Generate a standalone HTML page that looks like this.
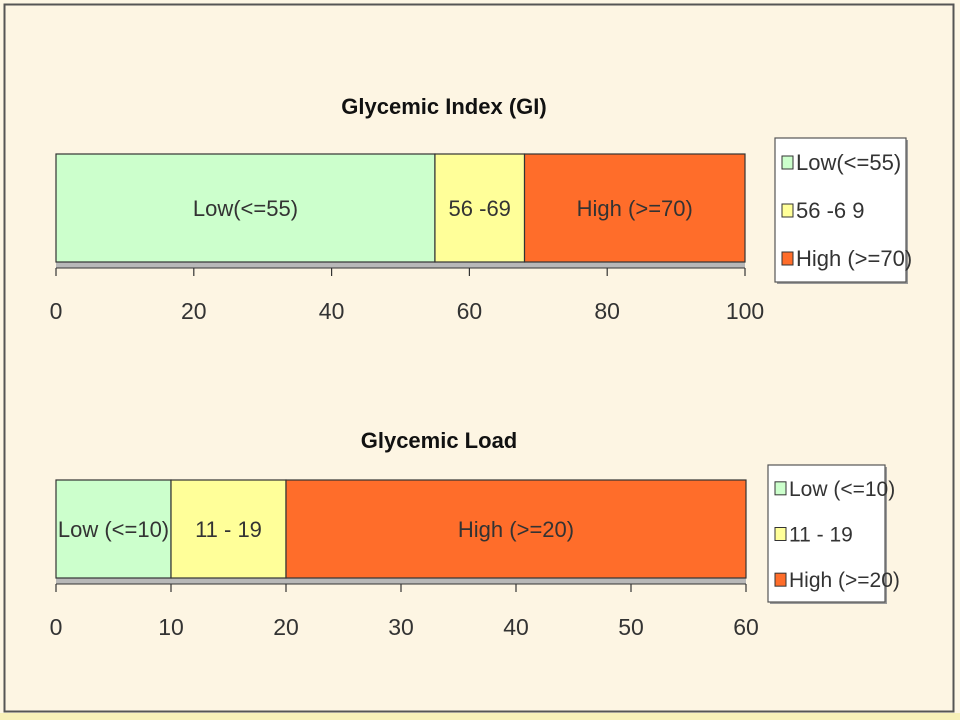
<!DOCTYPE html>
<html><head><meta charset="utf-8"><style>
html,body{margin:0;padding:0;background:#fdf5e3;}
svg{display:block;font-family:"Liberation Sans Narrow","Liberation Sans",sans-serif;}
</style></head><body>
<svg id="c" width="960" height="720" viewBox="0 0 960 720">
<rect x="0" y="0" width="960" height="720" fill="#fdf6e4"/>
<rect x="4.5" y="4.5" width="949" height="707" fill="#fdf5e3" stroke="#555" stroke-width="2"/>
<rect x="0" y="713" width="960" height="7" fill="#f7f0b8"/>
</svg>
<script>
const giLabels=["Low(<=55)","56 -69","High (>=70)"];
const giLegend=["Low(<=55)","56 -6 9","High  (>=70)"];
const giValues=[55,13,32];
const giTicks=[0,20,40,60,80,100];
const glLabels=["Low (<=10)","11 - 19","High (>=20)"];
const glLegend=["Low (<=10)","11 - 19","High (>=20)"];
const glValues=[10,10,40];
const glTicks=[0,10,20,30,40,50,60];
const colors=["#ccffcc","#ffff99","#ff6d2a"];
const svg=document.getElementById('c');
const NS='http://www.w3.org/2000/svg';
function mk(tag,attrs,parent){const e=document.createElementNS(NS,tag);for(const k in attrs)e.setAttribute(k,attrs[k]);(parent||svg).appendChild(e);return e;}
function chart(o){
  const g=mk('g',{});
  
  
  const max=o.ticks[o.ticks.length-1];
  const sx=v=>o.x0+(v/max)*(o.x1-o.x0);
  const t=mk('text',{x:o.tx,y:o.ty,'text-anchor':'middle','font-size':22,'font-weight':'bold',fill:'#111'},g);
  t.textContent=o.title;
  
  
  const band=mk('rect',{x:o.x0,y:o.y1,width:o.x1-o.x0,height:6,fill:'#b8b8b8'},g);
  
  
  let acc=0;
  o.values.forEach((v,i)=>{
    const r=mk('rect',{x:sx(acc),y:o.y0,width:sx(acc+v)-sx(acc),height:o.y1-o.y0,fill:colors[i],stroke:'#333','stroke-width':1.2},g);
    
    
    const lt=mk('text',{x:(sx(acc)+sx(acc+v))/2,y:(o.y0+o.y1)/2+8,'text-anchor':'middle','font-size':22,fill:'#333'},g);
    lt.textContent=o.labels[i];
    
    
    acc+=v;
  });
  const ax=mk('line',{x1:o.x0,x2:o.x1,y1:o.y1+6,y2:o.y1+6,stroke:'#333','stroke-width':1},g);
  
  
  o.ticks.forEach(tv=>{
    const tl=mk('line',{x1:sx(tv),x2:sx(tv),y1:o.y1+6,y2:o.y1+14,stroke:'#333','stroke-width':1.2},g);
    
    
    const tt=mk('text',{x:sx(tv),y:o.y1+57,'text-anchor':'middle','font-size':23,fill:'#333'},g);
    tt.textContent=tv;
    
    
  });
  const lg=mk('g',{},g);
  
  
  mk('rect',{x:o.lx+2,y:o.ly+2,width:o.lw,height:o.lh,fill:'#999'},lg);
  mk('rect',{x:o.lx,y:o.ly,width:o.lw,height:o.lh,fill:'#fff',stroke:'#555','stroke-width':1.2},lg);
  o.legend.forEach((s,i)=>{
    const yy=o.ly+o.lh*(i+0.5)/3;
    const e=mk('g',{},lg);
    
    
    mk('rect',{x:o.lx+7,y:yy-6,width:11,height:13,fill:colors[i],stroke:'#333','stroke-width':1},e);
    const lt=mk('text',{x:o.lx+21,y:yy+8,'font-size':o.lfs,fill:'#333'},e);
    lt.textContent=s;
  });
}
chart({name:'gi-chart',title:'Glycemic Index (GI)',tx:444,ty:114,x0:56,x1:745,y0:154,y1:262,values:giValues,labels:giLabels,ticks:giTicks,legend:giLegend,lx:775,ly:138,lw:131,lh:144,lfs:22});
chart({name:'gl-chart',title:'Glycemic Load',tx:439,ty:448,x0:56,x1:746,y0:480,y1:578,values:glValues,labels:glLabels,ticks:glTicks,legend:glLegend,lx:768,ly:465,lw:117,lh:137,lfs:21});
</script>
</body></html>
